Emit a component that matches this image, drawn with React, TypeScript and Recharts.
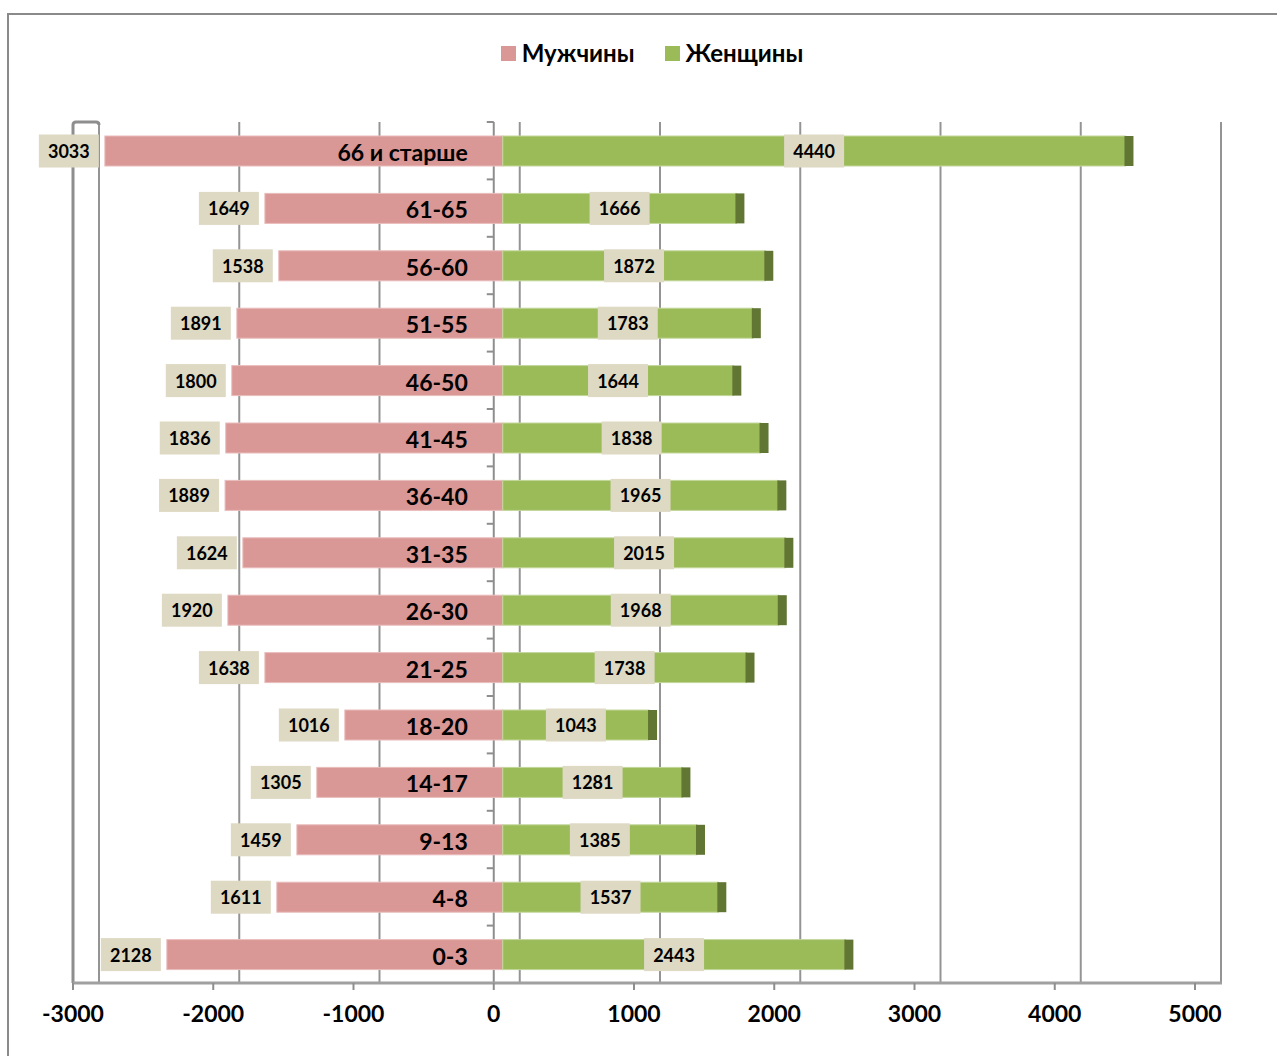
import React from "react";
import {
  Bar,
  BarChart,
  CartesianGrid,
  LabelList,
  ReferenceLine,
  XAxis,
  YAxis,
} from "recharts";

// age groups, top to bottom
const categories = [
  "66 и старше", "61-65", "56-60", "51-55", "46-50", "41-45", "36-40", "31-35",
  "26-30", "21-25", "18-20", "14-17", "9-13", "4-8", "0-3",
];
// pink bar lengths as drawn
const maleBars = [2837, 1696, 1597, 1896, 1932, 1975, 1980, 1853, 1960, 1696, 1126, 1326, 1468, 1611, 2395];
// numbers printed beside the pink bars
const maleLabels = [3033, 1649, 1538, 1891, 1800, 1836, 1889, 1624, 1920, 1638, 1016, 1305, 1459, 1611, 2128];
const femaleValues = [4440, 1666, 1872, 1783, 1644, 1838, 1965, 2015, 1968, 1738, 1043, 1281, 1385, 1537, 2443];
const xTicks = [-3000, -2000, -1000, 0, 1000, 2000, 3000, 4000, 5000];

const data = categories.map((name, i) => ({
  name,
  male: -maleBars[i],
  female: femaleValues[i],
  maleLabel: maleLabels[i],
}));

const FONT = "Lato, 'Noto Sans', sans-serif";
const PINK = "#D99795";
const GREEN = "#9BBB59";
const GREEN_SIDE = "#617632";
const BOX = "#DDD9C3";
const GRID = "#8E8E8E";
const DEPTH = 9; // bars sit a little behind the front axis
const WALL = 26; // back wall shift of the gridlines

const MaleShape = (p: any) => {
  const left = Math.min(p.x, p.x + p.width) + DEPTH;
  const w = Math.abs(p.width);
  return <rect x={left} y={p.y} width={w} height={p.height} fill={PINK} stroke="#E9BDBC" strokeWidth={1} />;
};

const FemaleShape = (p: any) => {
  const left = Math.min(p.x, p.x + p.width) + DEPTH;
  const w = Math.abs(p.width);
  return (
    <g>
      <rect x={left} y={p.y} width={w} height={p.height} fill={GREEN} stroke="#C3D69B" strokeWidth={1} />
      <rect x={left + w - 1} y={p.y} width={9} height={p.height} fill={GREEN_SIDE} />
    </g>
  );
};

const MaleNumber = (p: any) => {
  const left = Math.min(p.x, p.x + p.width) + DEPTH;
  const cy = p.y + p.height / 2;
  const bw = 60;
  const bh = 33;
  const bx = left - 6 - bw;
  return (
    <g>
      <rect x={bx} y={cy - bh / 2} width={bw} height={bh} fill={BOX} />
      <text x={bx + bw / 2} y={cy} textAnchor="middle" dominantBaseline="central" fontFamily={FONT} fontWeight={700} fontSize={18} fill="#000">
        {p.value}
      </text>
    </g>
  );
};

const CategoryName = (p: any) => {
  const right = Math.max(p.x, p.x + p.width) + DEPTH;
  const cy = p.y + p.height / 2;
  return (
    <text x={right - 35} y={cy + 1} textAnchor="end" dominantBaseline="central" fontFamily={FONT} fontWeight={700} fontSize={23} fill="#000">
      {p.value}
    </text>
  );
};

const FemaleNumber = (p: any) => {
  const left = Math.min(p.x, p.x + p.width) + DEPTH;
  const w = Math.abs(p.width);
  const cx = left + w / 2;
  const cy = p.y + p.height / 2;
  const bw = 60;
  const bh = 33;
  return (
    <g>
      <rect x={cx - bw / 2} y={cy - bh / 2} width={bw} height={bh} fill={BOX} />
      <text x={cx} y={cy} textAnchor="middle" dominantBaseline="central" fontFamily={FONT} fontWeight={700} fontSize={18} fill="#000">
        {p.value}
      </text>
    </g>
  );
};

const axisPx = (props: any, t: number) => {
  const { xAxis, offset } = props;
  const s = xAxis && typeof xAxis.scale === "function" ? xAxis.scale : null;
  return s ? s(t) : offset.left + ((t - xTicks[0]) / (xTicks[xTicks.length - 1] - xTicks[0])) * offset.width;
};

// back-wall gridlines
const gridX = (props: any) => xTicks.map((t) => axisPx(props, t) + WALL);
// vertical value axis at zero, kept behind the bars
const zeroX = (props: any) => [axisPx(props, 0)];

const ZeroTicks = (p: any) => {
  const top = Math.min(p.y1, p.y2);
  const bottom = Math.max(p.y1, p.y2);
  const n = categories.length;
  const step = (bottom - top) / n;
  const marks = Array.from({ length: n + 1 }, (_, i) => top + i * step);
  return (
    <g>
      {marks.map((y, i) => (
        <line key={i} x1={p.x1 - 7} y1={y} x2={p.x1} y2={y} stroke={GRID} strokeWidth={2} />
      ))}
    </g>
  );
};

const LeftWall = (p: any) => {
  const top = Math.min(p.y1, p.y2);
  const bottom = Math.max(p.y1, p.y2);
  const x = p.x1;
  return (
    <path
      d={`M${x},${bottom} L${x},${top + 3} Q${x},${top} ${x + 3},${top} L${x + WALL - 3},${top} Q${x + WALL},${top} ${x + WALL},${top + 3}`}
      fill="none"
      stroke={GRID}
      strokeWidth={3}
    />
  );
};

const RightFloor = (p: any) => {
  const bottom = Math.max(p.y1, p.y2);
  return <line x1={p.x1} y1={bottom} x2={p.x1 + WALL + 1} y2={bottom} stroke="#A0A0A0" strokeWidth={3} />;
};

const LegendBox = () => (
  <div style={{ display: "flex", justifyContent: "center", alignItems: "center", gap: 30, fontFamily: FONT, fontWeight: 700, fontSize: 24, color: "#000", lineHeight: "30px" }}>
    <span style={{ display: "flex", alignItems: "center" }}>
      <span style={{ width: 15, height: 15, background: PINK, marginRight: 6, display: "inline-block" }} />
      Мужчины
    </span>
    <span style={{ display: "flex", alignItems: "center" }}>
      <span style={{ width: 15, height: 15, background: GREEN, marginRight: 6, display: "inline-block" }} />
      Женщины
    </span>
  </div>
);

export default function App() {
  return (
    <div style={{ position: "absolute", left: 0, top: 0, width: 1277, height: 1056, overflow: "hidden", background: "#fff" }}>
      <div style={{ position: "absolute", left: 7, top: 13, width: 1300, height: 1100, border: "2px solid #8A8A8A" }} />
      <div style={{ position: "absolute", left: 0, top: 38, width: 1304 }}>
        <LegendBox />
      </div>
      <div style={{ position: "absolute", left: 0, top: 0 }}>
        <BarChart
          width={1277}
          height={1056}
          data={data}
          layout="vertical"
          stackOffset="sign"
          barSize={30}
          margin={{ top: 122, right: 82, bottom: 23, left: 73 }}
        >
          <CartesianGrid horizontal={false} stroke={GRID} strokeWidth={2} strokeOpacity={0.95} verticalCoordinatesGenerator={gridX} />
          <CartesianGrid horizontal={false} stroke={GRID} strokeWidth={2} verticalCoordinatesGenerator={zeroX} />
          <XAxis
            type="number"
            domain={[-3000, 5000]}
            ticks={xTicks}
            interval={0}
            axisLine={{ stroke: "#A0A0A0", strokeWidth: 3 }}
            tickLine={{ stroke: GRID, strokeWidth: 2 }}
            tickSize={7}
            tickMargin={16}
            height={50}
            tick={{ fontFamily: FONT, fontWeight: 700, fontSize: 23, fill: "#000" }}
          />
          <YAxis type="category" dataKey="name" hide />
          <ReferenceLine x={-3000} shape={LeftWall} />
          <ReferenceLine x={0} shape={ZeroTicks} />
          <ReferenceLine x={5000} shape={RightFloor} />
          <Bar dataKey="male" stackId="a" shape={MaleShape} isAnimationActive={false}>
            <LabelList dataKey="name" content={CategoryName} />
            <LabelList dataKey="maleLabel" content={MaleNumber} />
          </Bar>
          <Bar dataKey="female" stackId="a" shape={FemaleShape} isAnimationActive={false}>
            <LabelList dataKey="female" content={FemaleNumber} />
          </Bar>
        </BarChart>
      </div>
    </div>
  );
}
